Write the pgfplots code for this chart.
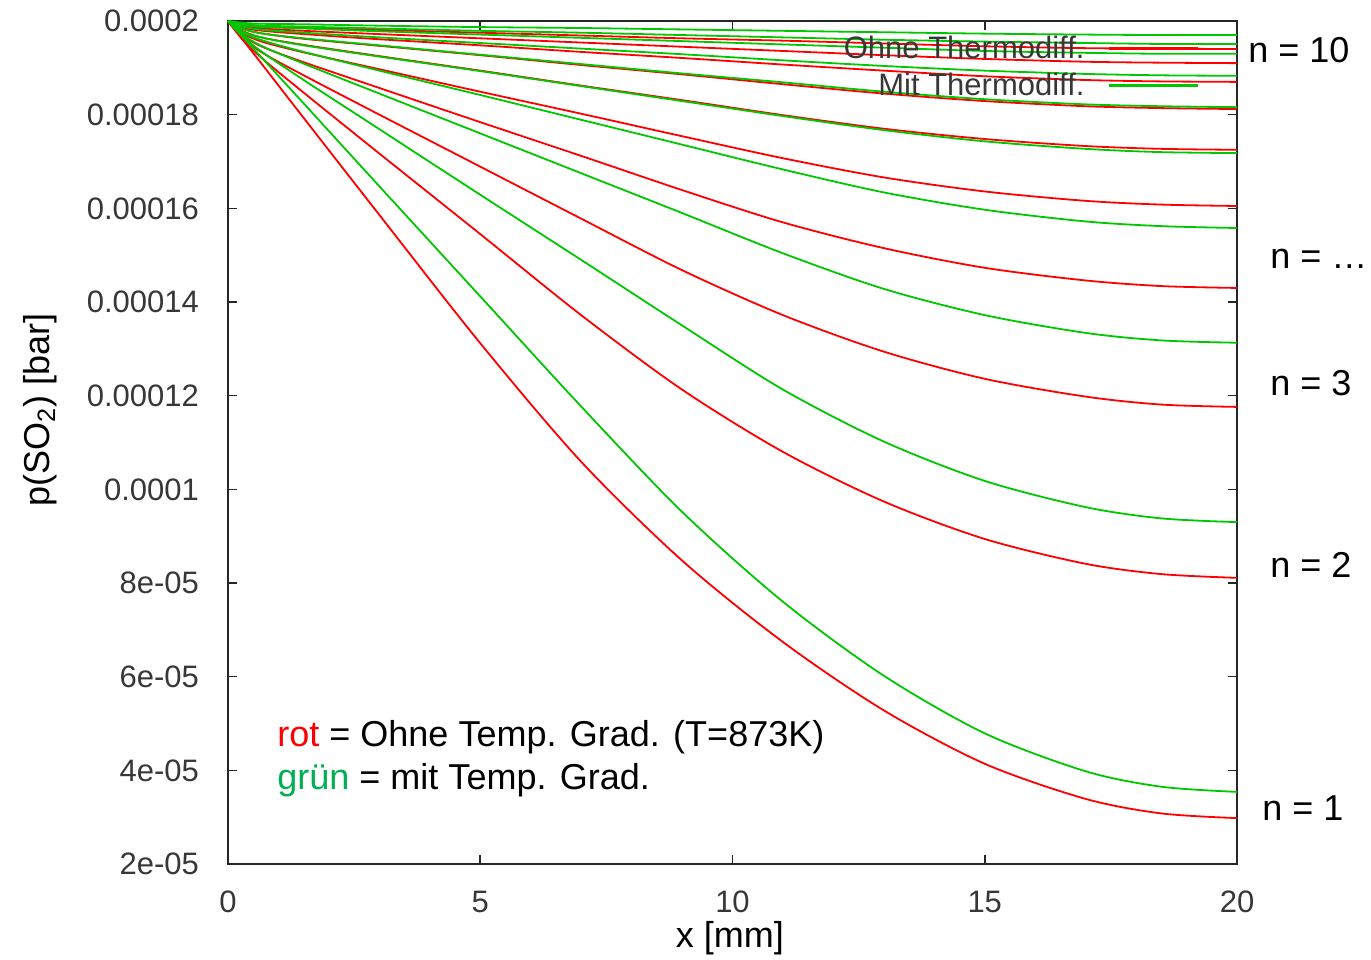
\documentclass[border=0pt]{standalone}
\usepackage{pgfplots}
\pgfplotsset{compat=1.18}
\usepackage{pgfplotstable}
\usepackage{fontspec}
\setmainfont{Liberation Sans}

\definecolor{gpred}{RGB}{255,0,0}
\definecolor{gpgreen}{RGB}{0,200,0}
\definecolor{pptgreen}{RGB}{0,176,80}
\definecolor{ticktext}{RGB}{55,55,55}

% p(SO2) in units of 1e-5 bar
\pgfplotstableread{
x    r1    r2    r3    r4    r5    r6    r7    r8    r9    r10   g1    g2    g3    g4    g5    g6    g7    g8    g9    g10
0    20    20    20    20    20    20    20    20    20    20    20    20    20    20    20    20    20    20    20    20
0.3  19.59 19.59 19.63 19.68 19.73 19.78 19.83 19.86 19.90 19.92 19.65 19.66 19.70 19.75 19.77 19.83 19.88 19.92 19.94 19.96
0.7  19.04 19.18 19.31 19.44 19.55 19.64 19.73 19.79 19.84 19.88 19.18 19.32 19.45 19.58 19.64 19.73 19.81 19.87 19.90 19.94
1.5  17.93 18.47 18.84 19.12 19.33 19.49 19.62 19.72 19.79 19.85 18.24 18.74 19.09 19.34 19.48 19.63 19.75 19.84 19.88 19.93
3    15.86 17.17 18.00 18.57 18.97 19.25 19.47 19.61 19.72 19.81 16.47 17.69 18.45 18.94 19.24 19.48 19.65 19.78 19.84 19.90
5    13.12 15.45 16.89 17.84 18.49 18.94 19.27 19.48 19.63 19.75 14.12 16.29 17.60 18.42 18.93 19.28 19.53 19.71 19.79 19.87
7    10.59 13.72 15.78 17.12 18.02 18.62 19.06 19.34 19.54 19.69 11.77 14.90 16.75 17.89 18.61 19.08 19.41 19.64 19.75 19.85
9    8.48  12.13 14.68 16.39 17.54 18.31 18.86 19.21 19.45 19.63 9.52  13.50 15.90 17.36 18.29 18.88 19.29 19.57 19.70 19.82
11   6.74  10.80 13.72 15.70 17.07 17.99 18.65 19.07 19.36 19.58 7.60  12.13 15.04 16.83 17.97 18.69 19.16 19.50 19.65 19.79
13   5.28  9.74  12.94 15.15 16.66 17.70 18.45 18.94 19.27 19.52 6.02  11.02 14.28 16.34 17.67 18.49 19.04 19.43 19.60 19.76
15   4.14  8.94  12.36 14.73 16.36 17.48 18.29 18.82 19.19 19.46 4.79  10.18 13.72 15.97 17.43 18.33 18.94 19.36 19.56 19.73
17   3.39  8.41  11.98 14.46 16.16 17.33 18.18 18.74 19.13 19.42 3.98  9.62  13.34 15.72 17.27 18.22 18.87 19.32 19.53 19.71
18.5 3.08  8.19  11.81 14.34 16.08 17.27 18.14 18.71 19.11 19.41 3.65  9.38  13.18 15.62 17.20 18.18 18.84 19.30 19.51 19.70
20   2.98  8.11  11.76 14.30 16.05 17.25 18.12 18.70 19.10 19.40 3.54  9.30  13.13 15.58 17.18 18.16 18.83 19.30 19.51 19.70
}\pdata

\begin{document}
\begin{tikzpicture}
\begin{axis}[
  at={(0,0)}, anchor=south west,
  scale only axis, width=504.5pt, height=421.5pt,
  xmin=0, xmax=20, ymin=2, ymax=20,
  xtick={0,5,10,15,20},
  xticklabels={0,5,10,15,20},
  ytick={2,4,6,8,10,12,14,16,18,20},
  yticklabels={2e-05,4e-05,6e-05,8e-05,0.0001,0.00012,0.00014,0.00016,0.00018,0.0002},
  tick align=inside, major tick length=4.5pt,
  axis line style={black!85, line width=0.9pt},
  tick style={black!85, line width=0.8pt},
  ticklabel style={font=\fontsize{15.5}{18}\selectfont, text=ticktext},
  xticklabel style={yshift=-10pt},
  yticklabel style={xshift=-11pt},
  xlabel={x [mm]},
  ylabel={p(SO\textsubscript{2}) [bar]},
  label style={font=\fontsize{18}{21}\selectfont},
  xlabel style={at={(axis description cs:0.4975,-0.0878)}, anchor=center},
  ylabel style={at={(axis description cs:-0.1863,0.5386)}, anchor=center},
  clip=false,
  legend cell align=right,
  legend plot pos=right,
  legend style={draw=none, fill=none, at={(axis description cs:0.969,0.9927)},
    anchor=north east, font=\fontsize{15.5}{18}\selectfont, text=ticktext,
    nodes={inner sep=2pt}, row sep=2pt, column sep=9.5pt},
  legend image code/.code={\draw[#1, line width=1.4pt] (0pt,0pt) -- (44.5pt,0pt);},
  every axis plot/.append style={line width=0.9pt, smooth},
]
\addplot[gpred] table[x=x, y=r1] {\pdata};
\addlegendentry{Ohne Thermodiff.}
\addplot[gpred, forget plot] table[x=x, y=r2] {\pdata};
\addplot[gpred, forget plot] table[x=x, y=r3] {\pdata};
\addplot[gpred, forget plot] table[x=x, y=r4] {\pdata};
\addplot[gpred, forget plot] table[x=x, y=r5] {\pdata};
\addplot[gpred, forget plot] table[x=x, y=r6] {\pdata};
\addplot[gpred, forget plot] table[x=x, y=r7] {\pdata};
\addplot[gpred, forget plot] table[x=x, y=r8] {\pdata};
\addplot[gpred, forget plot] table[x=x, y=r9] {\pdata};
\addplot[gpred, forget plot] table[x=x, y=r10] {\pdata};
\addplot[gpgreen] table[x=x, y=g1] {\pdata};
\addlegendentry{Mit Thermodiff.}
\addplot[gpgreen, forget plot] table[x=x, y=g2] {\pdata};
\addplot[gpgreen, forget plot] table[x=x, y=g3] {\pdata};
\addplot[gpgreen, forget plot] table[x=x, y=g4] {\pdata};
\addplot[gpgreen, forget plot] table[x=x, y=g5] {\pdata};
\addplot[gpgreen, forget plot] table[x=x, y=g6] {\pdata};
\addplot[gpgreen, forget plot] table[x=x, y=g7] {\pdata};
\addplot[gpgreen, forget plot] table[x=x, y=g8] {\pdata};
\addplot[gpgreen, forget plot] table[x=x, y=g9] {\pdata};
\addplot[gpgreen, forget plot] table[x=x, y=g10] {\pdata};

% annotations
\node[anchor=west, inner sep=0pt, font=\fontsize{18}{21}\selectfont] at (rel axis cs:0.0486,0.150)
  {\textcolor{gpred}{rot} = Ohne Temp. Grad. (T=873K)};
\node[anchor=west, inner sep=0pt, font=\fontsize{18}{21}\selectfont] at (rel axis cs:0.0486,0.099)
  {\textcolor{pptgreen}{grün} = mit Temp. Grad.};
\node[anchor=west, inner sep=0pt, font=\fontsize{18}{21}\selectfont] at (rel axis cs:1.0109,0.9656) {n = 10};
\node[anchor=west, inner sep=0pt, font=\fontsize{18}{21}\selectfont] at (rel axis cs:1.0327,0.7177) {n = …};
\node[anchor=west, inner sep=0pt, font=\fontsize{18}{21}\selectfont] at (rel axis cs:1.0327,0.5706) {n = 3};
\node[anchor=west, inner sep=0pt, font=\fontsize{18}{21}\selectfont] at (rel axis cs:1.0327,0.3547) {n = 2};
\node[anchor=west, inner sep=0pt, font=\fontsize{18}{21}\selectfont] at (rel axis cs:1.0248,0.0664) {n = 1};
\end{axis}
\pgfresetboundingbox
\path (-114pt,-47.5pt) rectangle (571.5pt,432pt);
\end{tikzpicture}
\end{document}
